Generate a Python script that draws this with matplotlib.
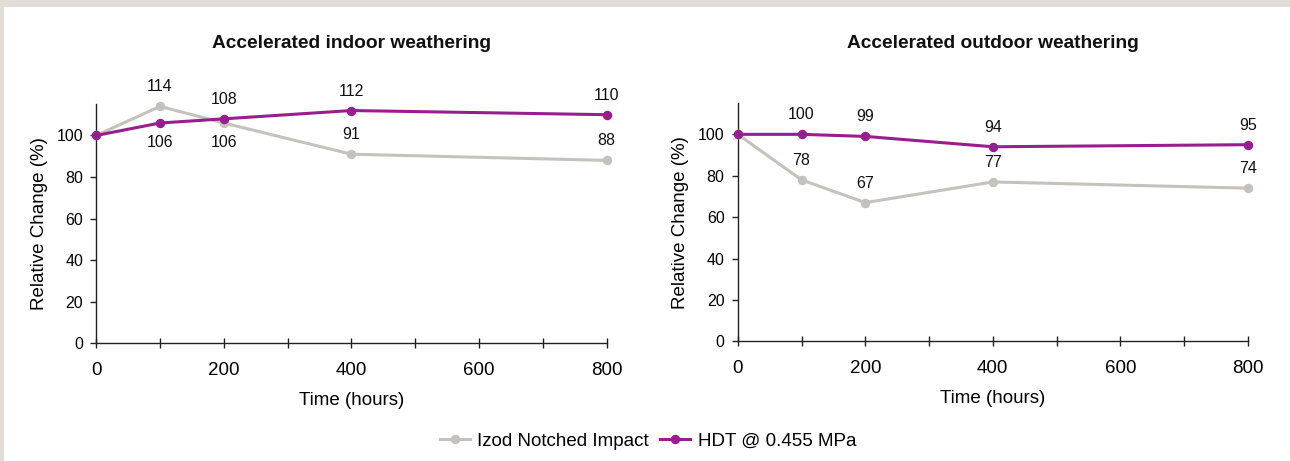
import matplotlib
matplotlib.use("Agg")
import matplotlib.pyplot as plt
from matplotlib.patches import Rectangle
from matplotlib.ticker import FixedLocator

plt.rcParams['font.family'] = ['Liberation Sans', 'DejaVu Sans']

hours = [0, 100, 200, 400, 800]
titles = ["Accelerated indoor weathering", "Accelerated outdoor weathering"]
series_names = ["Izod Notched Impact", "HDT @ 0.455 MPa"]

indoor_izod = [100, 114, 106, 91, 88]
indoor_hdt = [100, 106, 108, 112, 110]
outdoor_izod = [100, 78, 67, 77, 74]
outdoor_hdt = [100, 100, 99, 94, 95]

# label placement: 1 above, -1 below, 0 none
indoor_izod_pos = [0, 1, -1, 1, 1]
indoor_hdt_pos = [0, -1, 1, 1, 1]
outdoor_izod_pos = [0, 1, 1, 1, 1]
outdoor_hdt_pos = [0, 1, 1, 1, 1]

x_ticks_major = [0, 200, 400, 600, 800]
x_ticks_minor = [100, 300, 500, 700]
y_ticks = [0, 20, 40, 60, 80, 100]

GRAY = "#c5c2be"
PURPLE = "#991e8d"
BEIGE = "#e2ddd6"

fig = plt.figure(figsize=(12.9, 4.61), dpi=100)
fig.patch.set_facecolor("white")
fig.patches.append(Rectangle((0, 1 - 7 / 461), 1, 7 / 461, transform=fig.transFigure,
                             facecolor=BEIGE, edgecolor="none", zorder=0))
fig.patches.append(Rectangle((0, 0), 4 / 1290, 1, transform=fig.transFigure,
                             facecolor=BEIGE, edgecolor="none", zorder=0))

W, H = 1290, 461
axes_px = [(96.2, 104.3, 606.5, 343.3), (737.8, 103.3, 1247.8, 341.3)]
data = [
    (indoor_izod, indoor_izod_pos, indoor_hdt, indoor_hdt_pos),
    (outdoor_izod, outdoor_izod_pos, outdoor_hdt, outdoor_hdt_pos),
]

handles = None
for i, (x0, yt, x1, yb) in enumerate(axes_px):
    ax = fig.add_axes([x0 / W, 1 - yb / H, (x1 - x0) / W, (yb - yt) / H])
    izod, izod_pos, hdt, hdt_pos = data[i]
    l1, = ax.plot(hours, izod, color=GRAY, lw=2.2, marker='o', ms=5.8, label=series_names[0],
                  clip_on=False, zorder=3)
    l2, = ax.plot(hours, hdt, color=PURPLE, lw=2.2, marker='o', ms=5.8, label=series_names[1],
                  clip_on=False, zorder=4)
    handles = [l1, l2]
    for vals, poss in ((izod, izod_pos), (hdt, hdt_pos)):
        for xv, yv, p in zip(hours, vals, poss):
            if p == 0:
                continue
            ax.annotate(f"{yv}", (xv, yv), xytext=(0, 14 * p), textcoords='offset points',
                        ha='center', va='center', fontsize=11.5, color='#111111')
    ax.set_xlim(0, 800)
    ax.set_ylim(0, 115)
    ax.xaxis.set_major_locator(FixedLocator(x_ticks_major))
    ax.xaxis.set_minor_locator(FixedLocator(x_ticks_minor))
    ax.yaxis.set_major_locator(FixedLocator(y_ticks))
    for s in ('top', 'right'):
        ax.spines[s].set_visible(False)
    for s in ('left', 'bottom'):
        ax.spines[s].set_color('#222222')
        ax.spines[s].set_linewidth(1.0)
    ax.tick_params(axis='x', which='both', direction='inout', length=7, width=1.0,
                   color='#222222', pad=10, labelsize=13.5)
    ax.tick_params(axis='y', which='major', direction='out', length=4.5, width=1.0,
                   color='#222222', pad=5, labelsize=11.5)
    ax.set_xlabel("Time (hours)", fontsize=13.5)
    ax.set_ylabel("Relative Change (%)", fontsize=13.5)
    ax.xaxis.set_label_coords(0.5, -0.205)
    ax.yaxis.set_label_coords(-0.095, 0.5)
    ax.set_facecolor('none')
    cx = (x0 + x1) / 2 / W
    fig.text(cx, 1 - 43.5 / H, titles[i], ha='center', va='center', fontsize=13.8,
             fontweight='bold', color='#111111')

fig.legend(handles, series_names, loc='center', bbox_to_anchor=(648 / W, 1 - 441 / H),
           ncol=2, frameon=False, fontsize=13.5, handlelength=1.6, handletextpad=0.4,
           columnspacing=0.6, borderaxespad=0)

fig.savefig("out.png", dpi=100, facecolor=fig.get_facecolor())
